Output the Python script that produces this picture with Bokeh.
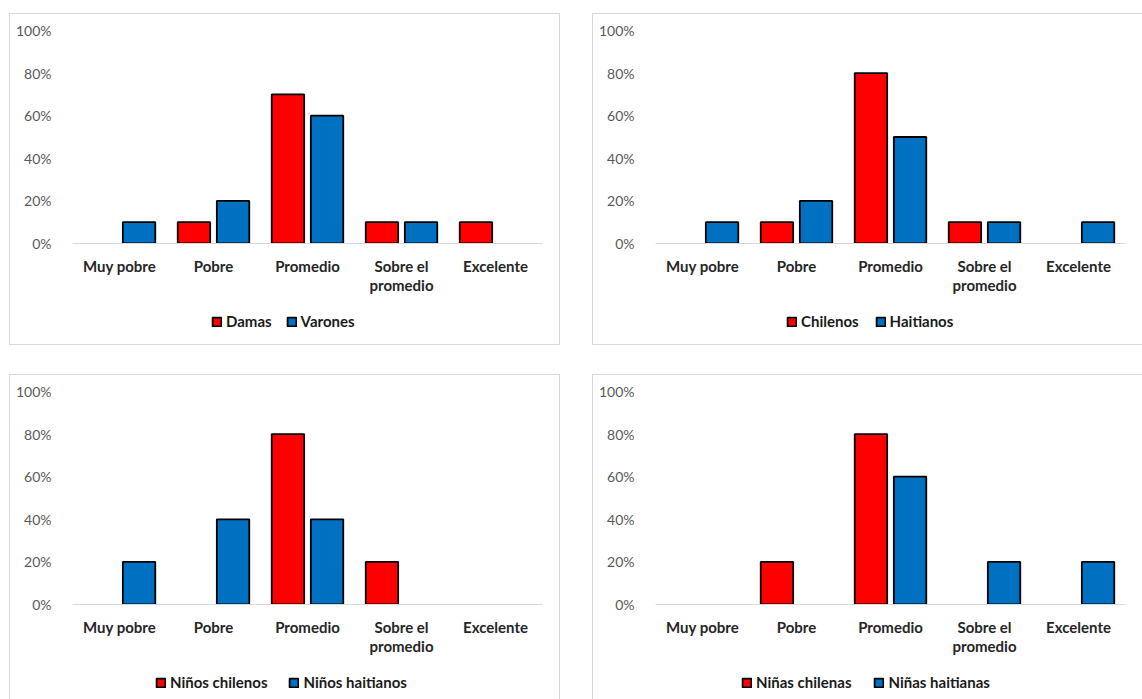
import numpy as np
from bokeh.plotting import figure
from bokeh.models import (Range1d, ColumnDataSource, NumeralTickFormatter,
                          FixedTicker, Legend, LegendItem, LinearAxis)
from bokeh.layouts import column, row
from bokeh.embed import file_html
from bokeh.resources import INLINE

# Categories on the x axis (the long one is wrapped on two lines)
categories = ["Muy pobre", "Pobre", "Promedio", "Sobre el promedio", "Excelente"]
category_line1 = ["Muy pobre", "Pobre", "Promedio", "Sobre el", "Excelente"]
category_line2 = ["", "", "", "promedio", ""]
y_ticks = [0, 0.2, 0.4, 0.6, 0.8, 1.0]

# Shares per category (fractions)
damas = [0.0, 0.1, 0.7, 0.1, 0.1]
varones = [0.1, 0.2, 0.6, 0.1, 0.0]

chilenos = [0.0, 0.1, 0.8, 0.1, 0.0]
haitianos = [0.1, 0.2, 0.5, 0.1, 0.1]

ninos_chilenos = [0.0, 0.0, 0.8, 0.2, 0.0]
ninos_haitianos = [0.2, 0.4, 0.4, 0.0, 0.0]

ninas_chilenas = [0.0, 0.2, 0.8, 0.0, 0.0]
ninas_haitianas = [0.0, 0.0, 0.6, 0.2, 0.2]

RED = "#FF0000"
BLUE = "#0070C0"
FONT = "Lato"
BAR_W = 0.345
OFFSET = 0.208
PANEL_W = 549
CHART_H = 290

positions = list(range(len(categories)))


def nonzero(values, shift):
    xs = [i + shift for i, v in zip(positions, values) if v > 0]
    vals = [v for v in values if v > 0]
    return ColumnDataSource(dict(x=xs, val=vals))


def style_cat_axis(ax, standoff):
    ax.major_tick_line_color = None
    ax.minor_tick_line_color = None
    ax.major_label_text_font = FONT
    ax.major_label_text_font_style = "bold"
    ax.major_label_text_font_size = "15px"
    ax.major_label_text_color = "#262626"
    ax.major_label_standoff = standoff


def chart(a_vals, b_vals):
    p = figure(x_range=Range1d(-0.5, len(categories) - 0.5),
               y_range=Range1d(0, 1),
               width=PANEL_W, height=CHART_H,
               output_backend="svg", toolbar_location=None,
               min_border_left=62, min_border_right=17,
               min_border_top=16, min_border_bottom=CHART_H - 229,
               outline_line_color=None, background_fill_color="white",
               border_fill_color="white")

    p.vbar(x="x", top="val", width=BAR_W, source=nonzero(a_vals, -OFFSET),
           fill_color=RED, line_color="black", line_width=1.8)
    p.vbar(x="x", top="val", width=BAR_W, source=nonzero(b_vals, OFFSET),
           fill_color=BLUE, line_color="black", line_width=1.8)

    p.xgrid.grid_line_color = None
    p.ygrid.grid_line_color = None

    yax = p.yaxis[0]
    yax.ticker = FixedTicker(ticks=y_ticks)
    yax.formatter = NumeralTickFormatter(format="0%")
    yax.axis_line_color = None
    yax.major_tick_line_color = None
    yax.minor_tick_line_color = None
    yax.major_label_text_font = FONT
    yax.major_label_text_font_size = "14px"
    yax.major_label_text_color = "#595959"
    yax.major_label_standoff = 15

    xax = p.xaxis[0]
    xax.ticker = FixedTicker(ticks=positions)
    xax.major_label_overrides = {i: t for i, t in zip(positions, category_line1)}
    xax.axis_line_color = "#d9d9d9"
    xax.axis_line_width = 1
    style_cat_axis(xax, 7)

    second = [i for i, t in zip(positions, category_line2) if t]
    xax2 = LinearAxis(ticker=FixedTicker(ticks=second),
                      major_label_overrides={i: category_line2[i] for i in second},
                      axis_line_color=None)
    style_cat_axis(xax2, -8)
    p.add_layout(xax2, "below")
    return p


def legend_strip(a_name, b_name, height, x0, spacing):
    lf = figure(x_range=Range1d(0, 1), y_range=Range1d(0, 1),
                width=PANEL_W, height=height, min_border=0,
                output_backend="svg", toolbar_location=None,
                x_axis_location=None, y_axis_location=None,
                outline_line_color=None, background_fill_color="white",
                border_fill_color="white")
    lf.grid.visible = False
    # swatch renderers carry no drawable bar; only their legend entries show
    ra = lf.vbar(x="x", top="val", width=BAR_W,
                 source=ColumnDataSource(dict(x=np.array([np.nan]), val=np.array([np.nan]))),
                 fill_color=RED, line_color="black", line_width=1.8)
    rb = lf.vbar(x="x", top="val", width=BAR_W,
                 source=ColumnDataSource(dict(x=np.array([np.nan]), val=np.array([np.nan]))),
                 fill_color=BLUE, line_color="black", line_width=1.8)
    legend = Legend(items=[LegendItem(label=a_name, renderers=[ra]),
                           LegendItem(label=b_name, renderers=[rb])],
                    location=(x0, height - 27), orientation="horizontal",
                    border_line_color=None, background_fill_alpha=0,
                    padding=0, margin=0, spacing=spacing,
                    glyph_width=11, glyph_height=11, label_standoff=4,
                    label_height=20,
                    label_text_font=FONT, label_text_font_style="bold",
                    label_text_font_size="15px", label_text_color="#1a1a1a")
    lf.add_layout(legend, "center")
    return lf


def panel(a_vals, b_vals, a_name, b_name, height, x0, spacing):
    return column(chart(a_vals, b_vals),
                  legend_strip(a_name, b_name, height - CHART_H, x0, spacing),
                  spacing=0, styles={"box-shadow": "0 0 0 1px #d9d9d9"})


c1 = panel(damas, varones, "Damas", "Varones", 330, 139, 14)
c2 = panel(chilenos, haitianos, "Chilenos", "Haitianos", 330, 131, 16)
c3 = panel(ninos_chilenos, ninos_haitianos, "Niños chilenos", "Niños haitianos", 324, 83, 21)
c4 = panel(ninas_chilenas, ninas_haitianas, "Niñas chilenas", "Niñas haitianas", 324, 86, 22)

layout = column(row(c1, c2, spacing=34), row(c3, c4, spacing=34),
                spacing=31, margin=(14, 0, 0, 10))

open("out.html", "w").write(file_html(layout, INLINE))
